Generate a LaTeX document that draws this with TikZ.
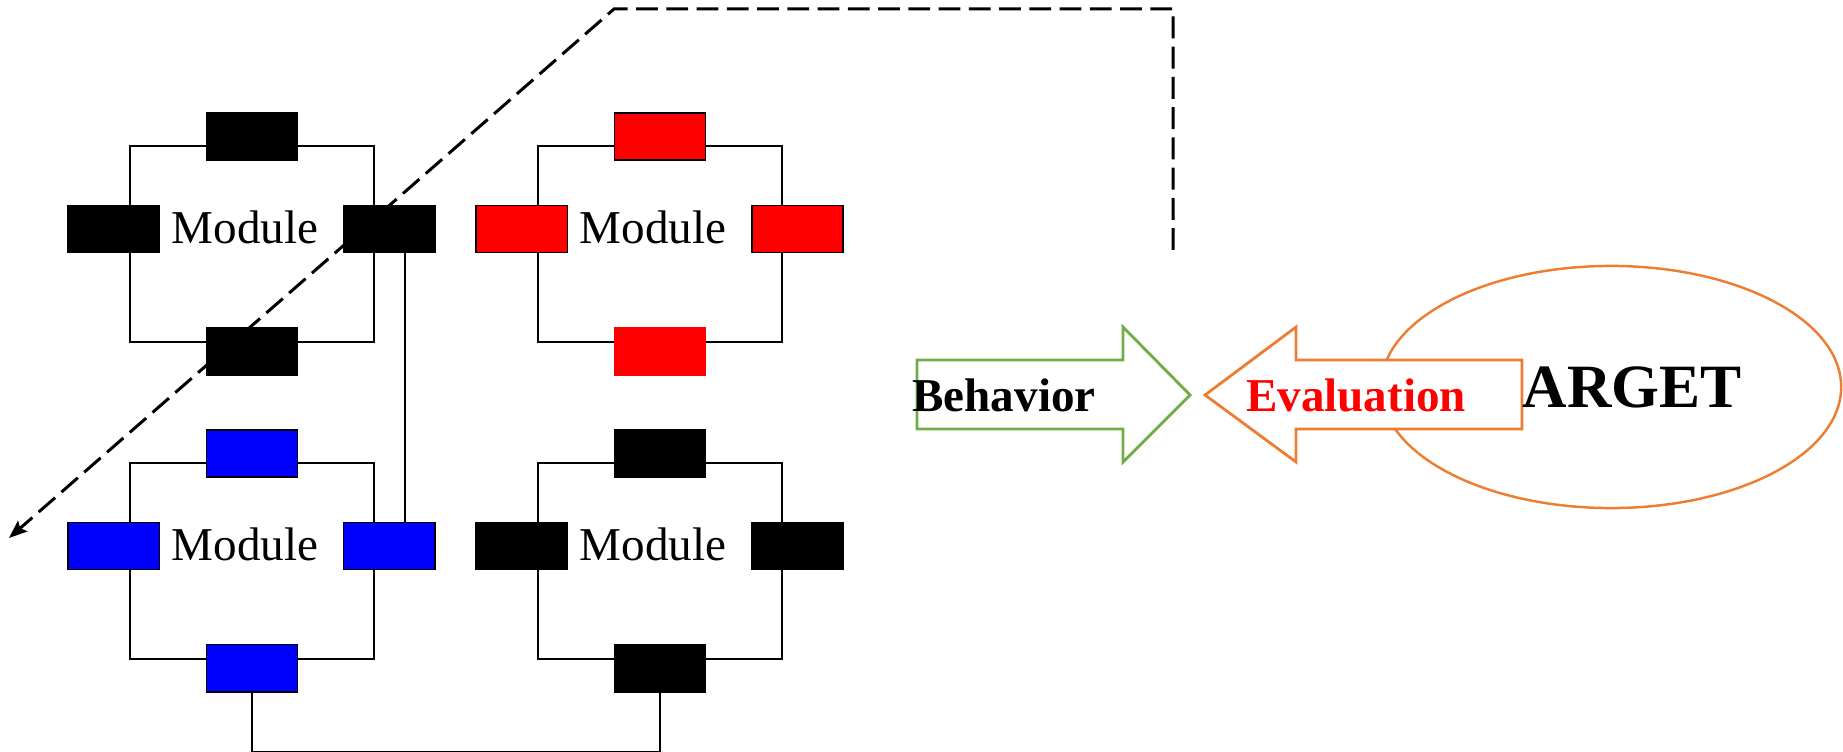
\documentclass[tikz,border=0pt]{standalone}
\usepackage{fontspec}
\setmainfont{Liberation Serif}
\usetikzlibrary{arrows.meta}
\usetikzlibrary{shapes.geometric}
\definecolor{offgreen}{HTML}{70AD47}
\definecolor{offorange}{HTML}{ED7D31}

\begin{document}
\begin{tikzpicture}[x=0.01cm, y=-0.01cm,
	modbox/.style={draw, line width=0.6pt, minimum width=2.44cm, minimum height=1.96cm, inner sep=0pt},
	port/.style={draw=black, line width=0.5pt, minimum width=0.91cm, minimum height=0.47cm, inner sep=0pt},
	modtext/.style={inner sep=0pt, font=\fontsize{13.4}{15}\selectfont},
	wire/.style={line width=0.6pt},
	bigarrow/.style={line width=0.8pt, fill=white},
	arrowtext/.style={inner sep=0pt, font=\bfseries\fontsize{13.4}{15}\selectfont}]
	\useasboundingbox (0,0) rectangle (1843,752);

	\foreach \i/\x/\y/\col/\bcol in {1/252/244/black/black, 2/660/244/red/red, 3/252/561/blue/black, 4/660/561/black/black}{
		\node[modbox] (mod\i) at (\x,\y) {};
		
		\node[port, fill=\col] (mod\i-t)
			at ([yshift=0.085cm]mod\i.north) {};
		\node[port, fill=\col] (mod\i-l)
			at ([xshift=-0.15cm, yshift=0.15cm]mod\i.west) {};
		\node[port, fill=\col] (mod\i-r)
			at ([xshift=0.14cm, yshift=0.15cm]mod\i.east) {};
		\node[port, fill=\col, draw=\bcol] (mod\i-b)
			at ([yshift=-0.08cm]mod\i.south) {};
		
		\node[modtext] (mod\i-txt)
			at ([xshift=-0.07cm, yshift=0.165cm]mod\i.center) {Module};
	}
	
	\draw[wire]
		([xshift=0.16cm]mod1-r.south) -- ([xshift=0.16cm]mod3-r.north);
	\draw[wire]
		(mod3-b.south) -- ++(0,60) -| (mod4-b.south);
	
	\coordinate (dstart) at (1173,250);
	\coordinate (dbend) at (614,9);
	\coordinate (dend) at (9,538);
	\draw[line width=0.85pt, dash pattern=on 6.2pt off 2.4pt, -{Stealth[length=1.8mm, width=1.4mm, inset=0.3mm]}]
		(dstart) |- (dbend) -- (dend);
	
	\node[ellipse, draw=offorange, line width=0.7pt, minimum width=4.6cm, minimum height=2.42cm] (target)
		at (1611,387) {};
	
	\draw[bigarrow, draw=offgreen]
		(917,360) -- (1123,360) -- (1123,327) -- (1190,395) -- (1123,462) -- (1123,429) -- (917,429) -- cycle;
	\draw[bigarrow, draw=offorange]
		(1522,360) -- (1296,360) -- (1296,327) -- (1205,395) -- (1296,462) -- (1296,429) -- (1522,429) -- cycle;
	
	\node[arrowtext] (behav) at (1004,395) {Behavior};
	\node[arrowtext, text=red] (evalu) at (1356,395) {Evaluation};
	\node[arrowtext, font=\bfseries\fontsize{17.5}{20}\selectfont] (targettxt) at (1632,387) {ARGET};
\end{tikzpicture}
\end{document}
